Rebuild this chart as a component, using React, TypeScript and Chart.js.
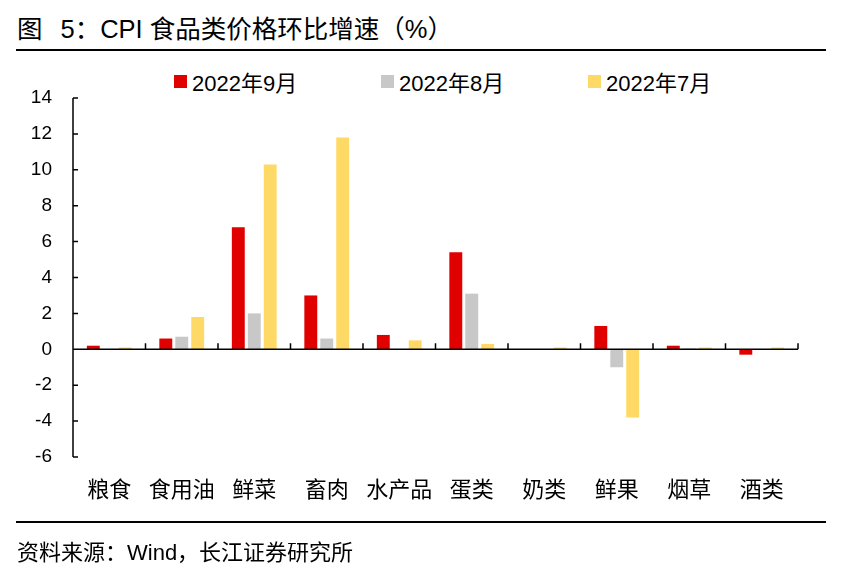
import React, { useEffect, useRef } from "react";
import { Chart, registerables } from "chart.js";

Chart.register(...registerables);

const categories = ["粮食", "食用油", "鲜菜", "畜肉", "水产品", "蛋类", "奶类", "鲜果", "烟草", "酒类"];
const sep2022 = [0.2, 0.6, 6.8, 3.0, 0.8, 5.4, 0.0, 1.3, 0.2, -0.3];
const aug2022 = [0.0, 0.7, 2.0, 0.6, 0.0, 3.1, 0.0, -1.0, 0.05, 0.0];
const jul2022 = [0.1, 1.8, 10.3, 11.8, 0.5, 0.3, 0.1, -3.8, 0.1, 0.1];
const seriesNames = ["2022年9月", "2022年8月", "2022年7月"];
const seriesColors = ["#E00000", "#C8C8C8", "#FFD966"];
const yMin = -6;
const yMax = 14;
const yStep = 2;

const FONT = '"Liberation Sans", Arial, "Noto Sans CJK SC", sans-serif';

const axesPlugin = {
  id: "customAxes",
  afterDatasetsDraw(chart: any) {
    const { ctx, chartArea, scales } = chart;
    const x = scales.x;
    const y = scales.y;
    const zeroY = y.getPixelForValue(0);
    const step = x.getPixelForValue(1) - x.getPixelForValue(0);
    ctx.save();
    ctx.strokeStyle = "#000";
    ctx.lineWidth = 1.5;
    ctx.beginPath();
    ctx.moveTo(chartArea.left, chartArea.top);
    ctx.lineTo(chartArea.left, chartArea.bottom);
    for (let v = yMin; v <= yMax; v += yStep) {
      const py = y.getPixelForValue(v);
      ctx.moveTo(chartArea.left, py);
      ctx.lineTo(chartArea.left + 5, py);
    }
    ctx.moveTo(chartArea.left, zeroY);
    ctx.lineTo(chartArea.right, zeroY);
    for (let i = 1; i <= categories.length; i++) {
      const px = x.getPixelForValue(i - 1) + step / 2;
      ctx.moveTo(px, zeroY);
      ctx.lineTo(px, zeroY - 6);
    }
    ctx.stroke();
    ctx.restore();
  },
};

export default function App() {
  const canvasRef = useRef<HTMLCanvasElement | null>(null);

  useEffect(() => {
    document.body.style.margin = "0";
    const canvas = canvasRef.current;
    if (!canvas) return;
    const chart = new Chart(canvas, {
      type: "bar",
      data: {
        labels: categories,
        datasets: [sep2022, aug2022, jul2022].map((d, i) => ({
          label: seriesNames[i],
          data: d,
          backgroundColor: seriesColors[i],
          borderWidth: 0,
          categoryPercentage: 0.66,
          barPercentage: 0.81,
        })),
      },
      options: {
        animation: false,
        responsive: false,
        maintainAspectRatio: false,
        layout: { padding: { left: 0, top: 98, right: 46, bottom: 60 } },
        plugins: {
          legend: { display: false },
          tooltip: { enabled: false },
          title: { display: false },
        },
        scales: {
          x: {
            grid: { display: false, drawTicks: false },
            border: { display: false },
            ticks: {
              font: { family: FONT, size: 22 },
              color: "#000",
              padding: 21,
              maxRotation: 0,
              autoSkip: false,
            },
            afterFit: (s: any) => {
              s.height = 65;
            },
          },
          y: {
            min: yMin,
            max: yMax,
            grid: { display: false, drawTicks: false },
            border: { display: false },
            ticks: {
              stepSize: yStep,
              font: { family: FONT, size: 19 },
              color: "#000",
              padding: 21,
            },
            afterFit: (s: any) => {
              s.width = 73;
            },
          },
        },
      },
      plugins: [axesPlugin],
    });
    return () => chart.destroy();
  }, []);

  const legendX = [174, 381, 588];

  return (
    <div style={{ position: "relative", width: 844, height: 582, background: "#fff", fontFamily: FONT, color: "#000" }}>
      <div style={{ position: "absolute", left: 17, top: 13, fontSize: 25.5, lineHeight: "32px", whiteSpace: "nowrap" }}>
        图<span style={{ display: "inline-block", width: 18 }} />5：CPI 食品类价格环比增速（%）
      </div>
      <div style={{ position: "absolute", left: 16, top: 49, width: 810, height: 2, background: "#000" }} />
      {seriesNames.map((name, i) => (
        <div key={name} style={{ position: "absolute", left: legendX[i], top: 68, height: 26, display: "flex", alignItems: "center", whiteSpace: "nowrap" }}>
          <span style={{ display: "inline-block", width: 13, height: 13, background: seriesColors[i], marginRight: 5 }} />
          <span style={{ fontSize: 22 }}>{name}</span>
        </div>
      ))}
      <canvas ref={canvasRef} width={844} height={582} style={{ position: "absolute", left: 0, top: 0, width: 844, height: 582 }} />
      <div style={{ position: "absolute", left: 16, top: 521, width: 810, height: 2, background: "#000" }} />
      <div style={{ position: "absolute", left: 17, top: 539, fontSize: 22, lineHeight: "28px", whiteSpace: "nowrap" }}>
        资料来源：Wind，长江证券研究所
      </div>
    </div>
  );
}
